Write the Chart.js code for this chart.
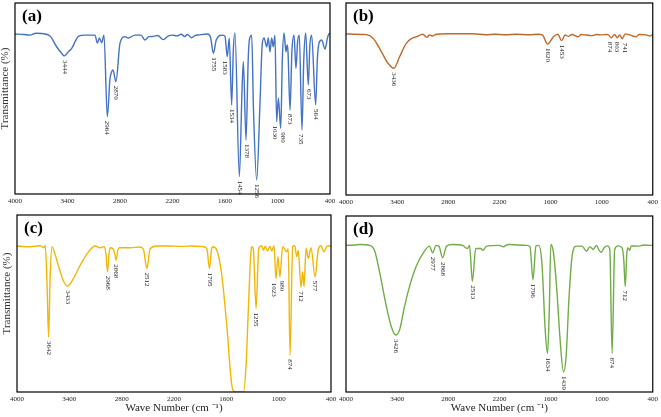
<!DOCTYPE html>
<html>
<head>
<meta charset="utf-8">
<script src="https://cdn.jsdelivr.net/npm/chart.js@4.4.1/dist/chart.umd.min.js"></script>
<style>
    body { margin: 0; background: #fff; }
    #wrap { position: relative; width: 661px; height: 417px; }
    #wrap canvas { position: absolute; left: 0; top: 0; }
</style>
</head>
<body>
<div id="wrap">
    <canvas id="panelA" width="661" height="417"></canvas>
    <canvas id="panelB" width="661" height="417"></canvas>
    <canvas id="panelC" width="661" height="417"></canvas>
    <canvas id="panelD" width="661" height="417"></canvas>
</div>
<script>
// ===================================== Datos ==================
const xTicks = [4000, 3400, 2800, 2200, 1600, 1000, 400];

// (a)
const waveA = [4000, 3900, 3829, 3760, 3695, 3600, 3524, 3470, 3435, 3390, 3352, 3300, 3276, 3200, 3086, 3059, 3035, 3010, 2983, 2945, 2915, 2895, 2880, 2846, 2800, 2743, 2705, 2629, 2560, 2514, 2470, 2420, 2370, 2305, 2250, 2200, 2150, 2100, 2060, 2030, 1981, 1940, 1900, 1800, 1765, 1733, 1700, 1660, 1625, 1600, 1574, 1551, 1524, 1505, 1486, 1436, 1405, 1390, 1360, 1335, 1322, 1295, 1275, 1238, 1200, 1175, 1154, 1123, 1105, 1086, 1067, 1048, 1029, 1010, 990, 963, 945, 926, 903, 890, 880, 857, 835, 811, 789, 770, 751, 720, 700, 678, 648, 630, 610, 564, 545, 526, 495, 457, 430, 419, 400];
const transA = [83.8, 83.5, 83.2, 84.2, 84.0, 82.7, 77.1, 73.8, 72.3, 74.5, 76.2, 81.0, 82.5, 83.2, 83.2, 79.0, 81.7, 79.2, 83.2, 40.5, 60.0, 64.0, 64.9, 58.8, 79.0, 82.4, 81.7, 83.2, 83.2, 80.6, 82.4, 82.5, 83.0, 80.8, 82.7, 83.2, 82.8, 83.6, 82.5, 83.5, 81.8, 83.0, 83.3, 83.8, 82.0, 73.7, 80.6, 83.0, 83.2, 82.5, 71.9, 81.7, 46.6, 75.0, 84.3, 9.1, 55.0, 69.3, 28.3, 70.0, 80.6, 83.2, 45.0, 7.3, 47.6, 78.0, 81.7, 77.1, 81.7, 74.5, 81.7, 77.1, 83.2, 37.9, 50.1, 34.4, 70.0, 84.3, 74.5, 78.0, 74.5, 44.0, 75.0, 83.2, 65.8, 80.0, 83.2, 33.5, 70.0, 84.3, 57.1, 78.0, 83.2, 46.6, 70.0, 79.0, 80.6, 75.9, 81.5, 83.2, 84.3];
const peaksA = ['3444', '2964', '2870', '1755', '1583', '1534', '1454', '1378', '1256', '1030', '980', '873', '735', '673', '564'];

// (b)
const waveB = [4000, 3900, 3800, 3759, 3682, 3584, 3507, 3437, 3371, 3293, 3230, 3176, 3099, 3052, 3020, 2983, 2950, 2827, 2700, 2517, 2361, 2250, 2128, 2000, 1850, 1740, 1693, 1635, 1565, 1515, 1468, 1429, 1390, 1350, 1274, 1240, 1180, 1119, 1060, 1000, 950, 925, 887, 847, 817, 790, 758, 723, 680, 595, 560, 480, 434, 400];
const transB = [83.9, 83.7, 83.6, 83.5, 81.6, 74.6, 68.6, 66.0, 72.0, 79.0, 81.5, 82.4, 83.7, 82.1, 83.3, 82.8, 83.6, 84.0, 84.0, 84.0, 83.5, 83.7, 83.5, 83.7, 83.5, 83.7, 83.3, 78.6, 82.4, 83.7, 80.4, 83.3, 82.6, 83.6, 82.4, 83.6, 83.3, 83.0, 83.6, 83.4, 83.6, 83.5, 81.9, 83.6, 81.9, 83.3, 81.4, 83.9, 83.5, 82.4, 83.6, 83.4, 82.8, 83.7];
const peaksB = ['3436', '1620', '1453', '874', '803', '741'];

// (c)
const waveC = [4000, 3900, 3848, 3733, 3695, 3676, 3655, 3638, 3620, 3599, 3561, 3504, 3460, 3420, 3352, 3275, 3180, 3103, 3046, 3000, 2980, 2962, 2945, 2931, 2900, 2880, 2863, 2845, 2825, 2702, 2588, 2550, 2511, 2473, 2396, 2264, 2100, 2000, 1862, 1823, 1793, 1770, 1755, 1709, 1652, 1595, 1537, 1499, 1404, 1374, 1347, 1320, 1309, 1290, 1259, 1228, 1194, 1176, 1155, 1130, 1099, 1080, 1054, 1031, 1008, 985, 955, 935, 909, 890, 870, 839, 815, 793, 775, 744, 724, 709, 686, 660, 629, 583, 546, 516, 480, 450, 412, 400];
const transC = [82.5, 82.1, 82.1, 82.6, 81.5, 82.8, 60.0, 31.1, 65.0, 82.1, 77.4, 67.9, 62.0, 59.8, 64.2, 71.7, 79.2, 82.5, 81.5, 82.1, 78.0, 67.9, 78.0, 81.5, 81.0, 78.5, 74.5, 80.0, 81.5, 81.5, 81.9, 80.5, 69.8, 80.9, 82.5, 82.5, 82.3, 82.5, 82.1, 80.9, 69.8, 80.5, 82.1, 80.2, 66.0, 37.7, 3.8, 0, 0, 15.1, 47.4, 78.0, 82.1, 80.5, 47.2, 81.2, 82.6, 80.0, 82.4, 79.6, 82.4, 79.6, 82.6, 64.0, 76.4, 65.1, 82.1, 81.0, 79.2, 81.0, 20.8, 82.1, 82.6, 76.4, 80.0, 59.2, 67.9, 59.6, 81.2, 75.5, 81.5, 65.1, 80.5, 82.6, 79.2, 82.1, 82.6, 82.3];
const peaksC = ['3642', '3433', '2968', '2868', '2512', '1795', '1255', '1023', '980', '874', '712', '577'];

// (d)
const waveD = [4000, 3900, 3837, 3720, 3662, 3604, 3526, 3468, 3417, 3371, 3313, 3254, 3176, 3080, 3021, 2983, 2943, 2910, 2866, 2820, 2750, 2633, 2575, 2550, 2517, 2477, 2419, 2392, 2350, 2206, 2150, 2120, 2089, 1973, 1876, 1840, 1806, 1771, 1740, 1701, 1662, 1635, 1615, 1596, 1565, 1526, 1487, 1448, 1417, 1382, 1344, 1294, 1230, 1177, 1138, 1099, 1060, 1029, 1002, 971, 932, 904, 877, 847, 808, 761, 740, 723, 705, 692, 670, 653, 575, 498, 420, 400];
const transD = [83.3, 83.5, 83.8, 83.3, 80.0, 67.7, 48.6, 37.1, 32.4, 35.3, 48.6, 60.0, 71.4, 80.0, 82.9, 79.1, 83.3, 82.9, 76.2, 82.9, 83.8, 83.3, 81.5, 83.3, 62.9, 81.5, 81.5, 80.5, 82.9, 83.3, 82.5, 83.5, 83.8, 83.5, 83.3, 82.5, 63.8, 82.9, 83.3, 73.4, 35.3, 21.9, 44.8, 83.8, 79.1, 58.1, 29.5, 11.4, 20.0, 54.3, 78.1, 82.9, 82.9, 80.0, 82.6, 81.0, 83.3, 80.5, 79.4, 82.0, 83.0, 81.0, 21.9, 81.0, 83.0, 82.0, 75.0, 60.0, 78.0, 82.0, 80.5, 83.0, 82.9, 83.5, 83.3, 83.3];
const peaksD = ['3426', '2977', '2868', '2513', '1796', '1634', '1439', '874', '712'];


// ===================================== Config general ==================
const W = 661, H = 417;
const SERIF = "'Liberation Serif', 'Times New Roman', serif";
const AXIS_H = 14;
const LABEL_GAP = 7.5;

// busca el minimo local mas bajo cerca del valor de la etiqueta
function buscarPico(data, valor) {
    let mejor = null;
    for (let i = 1; i < data.length - 1; i++) {
        const p = data[i];
        if (Math.abs(p.x - valor) > 40) continue;
        if (p.y <= data[i - 1].y && p.y <= data[i + 1].y) {
            if (!mejor || p.y < mejor.y) mejor = p;
        }
    }
    if (!mejor) {
        mejor = data.reduce((a, b) => Math.abs(b.x - valor) < Math.abs(a.x - valor) ? b : a);
    }
    return mejor;
}

// ===================================== Plugin: marco, etiquetas y titulos ==================
const decorPlugin = {
    id: 'decor',
    afterDatasetsDraw(chart, args, opts) {
        const { ctx, chartArea: a, scales: { x, y } } = chart;
        const data = chart.data.datasets[0].data;
        ctx.save();

        ctx.strokeStyle = '#000';
        ctx.lineWidth = 1.2;
        ctx.strokeRect(a.left, a.top, a.right - a.left, a.bottom - a.top);

        // etiquetas de picos (separa las que quedan pegadas)
        const pos = opts.peaks.map(txt => {
            const p = buscarPico(data, Number(txt));
            return { txt: txt, px: x.getPixelForValue(p.x), py: y.getPixelForValue(p.y) };
        }).sort((m, n) => m.px - n.px);
        for (let pasada = 0; pasada < 4; pasada++) {
            for (let i = 1; i < pos.length; i++) {
                if (pos[i].px - pos[i - 1].px < LABEL_GAP) {
                    const c = (pos[i].px + pos[i - 1].px) / 2;
                    pos[i - 1].px = c - LABEL_GAP / 2;
                    pos[i].px = c + LABEL_GAP / 2;
                }
            }
        }
        ctx.fillStyle = '#222';
        ctx.font = '7px ' + SERIF;
        ctx.textAlign = 'left';
        ctx.textBaseline = 'middle';
        pos.forEach(l => {
            ctx.save();
            ctx.translate(l.px, l.py + 4);
            ctx.rotate(Math.PI / 2);
            ctx.fillText(l.txt, 0, 0);
            ctx.restore();
        });

        // letra del panel
        ctx.fillStyle = '#000';
        ctx.font = 'bold 17px ' + SERIF;
        ctx.textBaseline = 'alphabetic';
        ctx.fillText(opts.tag, a.left + 7, a.top + 18);

        // titulo eje Y
        if (opts.yTitle) {
            ctx.save();
            ctx.fillStyle = '#333';
            ctx.font = '11px ' + SERIF;
            ctx.textAlign = 'center';
            ctx.textBaseline = 'middle';
            ctx.translate(a.left - 10, (a.top + a.bottom) / 2 - 10);
            ctx.rotate(-Math.PI / 2);
            ctx.fillText('Transmittance (%)', 0, 0);
            ctx.restore();
        }

        // titulo eje X
        if (opts.xTitle) {
            ctx.fillStyle = '#222';
            ctx.font = '11px ' + SERIF;
            ctx.textAlign = 'center';
            ctx.textBaseline = 'middle';
            ctx.fillText('Wave Number (cm \u207B\u00B9)', (a.left + a.right) / 2, a.bottom + 16);
        }
        ctx.restore();
    }
};

// ===================================== Crear panel ==================
function crearPanel(id, caja, wave, trans, color, peaks, tag, yTitle, xTitle) {
    const puntos = wave.map((w, i) => ({ x: w, y: trans[i] }));
    return new Chart(document.getElementById(id), {
        type: 'line',
        data: {
            datasets: [{
                data: puntos,
                borderColor: color,
                borderWidth: 1.4,
                pointRadius: 0,
                fill: false,
                cubicInterpolationMode: 'monotone'
            }]
        },
        options: {
            responsive: false,
            animation: false,
            devicePixelRatio: 1,
            events: [],
            layout: {
                padding: {
                    left: caja.left,
                    top: caja.top,
                    right: W - caja.right,
                    bottom: H - caja.bottom - AXIS_H
                }
            },
            plugins: {
                legend: { display: false },
                tooltip: { enabled: false },
                decor: { peaks: peaks, tag: tag, yTitle: yTitle, xTitle: xTitle }
            },
            scales: {
                x: {
                    type: 'linear',
                    reverse: true,
                    min: 400,
                    max: 4000,
                    afterBuildTicks: s => { s.ticks = xTicks.map(v => ({ value: v })); },
                    afterFit: s => { s.height = AXIS_H; },
                    grid: { drawOnChartArea: false, drawTicks: false },
                    border: { display: false },
                    ticks: {
                        autoSkip: false,
                        maxRotation: 0,
                        padding: 3,
                        color: '#222',
                        font: { family: SERIF, size: 7 },
                        callback: v => String(v)
                    }
                },
                y: {
                    display: false,
                    min: 0,
                    max: 100
                }
            }
        },
        plugins: [decorPlugin]
    });
}

crearPanel('panelA', { left: 15, top: 3, right: 330, bottom: 194 }, waveA, transA, '#4472C4', peaksA, '(a)', true, false);
crearPanel('panelB', { left: 346, top: 3, right: 655, bottom: 195 }, waveB, transB, '#C0692A', peaksB, '(b)', false, false);
crearPanel('panelC', { left: 17, top: 215, right: 331, bottom: 392 }, waveC, transC, '#F2B705', peaksC, '(c)', true, true);
crearPanel('panelD', { left: 346, top: 216, right: 655, bottom: 392 }, waveD, transD, '#70AD47', peaksD, '(d)', false, true);
</script>
</body>
</html>
